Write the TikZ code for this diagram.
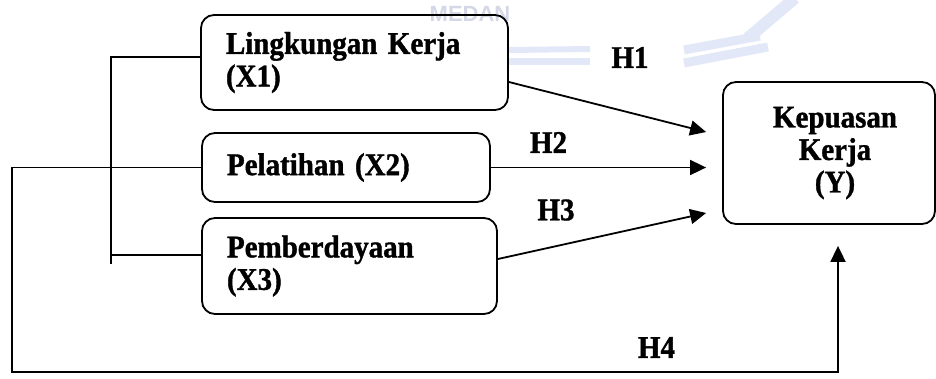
\documentclass[tikz,border=0pt]{standalone}
\usepackage{fontspec}
\setmainfont{Liberation Serif}[FakeStretch=0.92,BoldFeatures={FakeBold=1.2}]
\newfontfamily\wmfont{Liberation Sans}
\usetikzlibrary{arrows.meta,calc}
\definecolor{wmband}{RGB}{226,232,247}
\definecolor{wmtext}{RGB}{212,215,230}
\begin{document}
\begin{tikzpicture}[x=1pt,y=-1pt,
  box/.style={draw,line width=1.8pt,rounded corners=13pt,inner xsep=25pt,inner ysep=0pt,
    font=\fontsize{31.5}{32.5}\selectfont\bfseries},
  lbl/.style={font=\fontsize{31.5}{32.5}\selectfont\bfseries,inner sep=0pt},
  conn/.style={line width=1.8pt},
  arr/.style={conn,-{Triangle[length=16pt,width=15pt]}},
  wmline/.style={draw=wmband,line cap=butt}]
\useasboundingbox (0,0) rectangle (936,378);
% faint watermark
\node[text=wmtext,font=\fontsize{22}{22}\selectfont\wmfont\bfseries,inner sep=1pt] (wm) at (470,14) {MEDAN};
\begin{scope}
\clip (0,0) rectangle (936,378);
\draw[wmline,line width=6pt] (508,50) -- (590,49);
\draw[wmline,line width=7pt] (508,61) -- (590,61);
\draw[wmline,line width=9pt] (684,50) -- (760,36);
\draw[wmline,line width=9pt] (684,63) -- (768,47);
\draw[wmline,line width=12pt] (748,38) -- (795,-2);
\end{scope}
% boxes
\node[box,text width=257pt,align=left,minimum height=95pt] (X1) at (354.5,62.5) {Lingkungan Kerja\\(X1)};
\node[box,text width=238pt,align=left,minimum height=69pt] (X2) at (346,167.5) {Pelatihan (X2)};
\node[box,text width=245pt,align=left,minimum height=96pt] (X3) at (349.5,266) {Pemberdayaan\\(X3)};
\node[box,minimum width=212pt,minimum height=142pt] (Y) at (829,153) {};
\node[lbl,align=center] (Yt) at ($(Y.center)+(6,0)$) {Kepuasan\\Kerja\\(Y)};
% coordinates
\coordinate (t1) at ($(Y.west)+(-16,-21)$);
\coordinate (t2) at ($(Y.west)+(-16,14)$);
\coordinate (t3) at ($(Y.west)+(-16,60)$);
\coordinate (t4) at ($(Y.south)+(9,21)$);
\coordinate (c1) at (12,372);
\coordinate (b1) at (111,57);
\coordinate (b2) at (111,255);
\coordinate (b3) at (111,264);
% connectors
\draw[arr] ($(X1.east)+(0,19.5)$) -- (t1);
\draw[arr] (X2.east) -- (X2.east -| t2);
\draw[arr] ($(X3.east)+(0,-7)$) -- (t3);
\draw[arr] (X2.west) -| (c1) -| (t4);
\draw[conn] (X1.west |- b1) -- (b1) -- (b3);
\draw[conn] (b2) -- (X3.west |- b2);
% labels
\node[lbl] (h1) at (630,57.5) {H1};
\node[lbl] (h2) at (548.5,142.5) {H2};
\node[lbl] (h3) at (556,210) {H3};
\node[lbl] (h4) at (656.5,347.5) {H4};
\end{tikzpicture}
\end{document}
